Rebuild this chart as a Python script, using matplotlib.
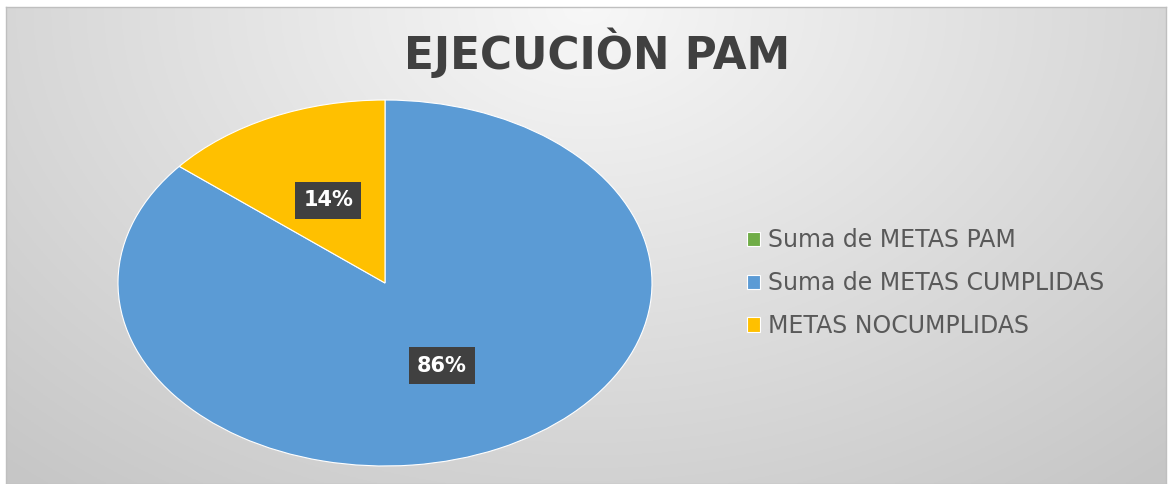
import numpy as np
import matplotlib.pyplot as plt

categorias = ["Suma de METAS PAM", "Suma de METAS CUMPLIDAS", "METAS NOCUMPLIDAS"]
valores = [0, 86, 14]
colores = ["#70AD47", "#5B9BD5", "#FFC000"]
titulo = "EJECUCIÒN PAM"

fig = plt.figure(figsize=(11.72, 4.84), dpi=100)
fig.patch.set_facecolor("white")

# fondo degradado del panel
W, H = 1172, 484
x0, y0, x1, y1 = 6, 7, 1166, 484
bg = fig.add_axes([x0 / W, 1 - y1 / H, (x1 - x0) / W, (y1 - y0) / H])
yy, xx = np.mgrid[0:200, 0:500]
d = np.sqrt(((xx - 250) / 330.0) ** 2 + ((yy - 0) / 230.0) ** 2)
g = np.clip(0.97 - 0.17 * d, 0.78, 0.97)
bg.imshow(np.dstack([g, g, g]), aspect="auto", extent=[0, 1, 0, 1], origin="upper")
bg.set_xlim(0, 1)
bg.set_ylim(0, 1)
bg.set_xticks([])
bg.set_yticks([])
for s in bg.spines.values():
    s.set_color("#bfbfbf")
    s.set_linewidth(1)

fig.text(597 / W, 1 - 53 / H, titulo, ha="center", va="center",
         fontsize=31.5, fontweight="bold", family="DejaVu Sans", color="#404040")

# pie (eliptica como en la imagen)
ax = fig.add_axes([118 / W, 18 / H, 534 / W, 366 / H])
ax.set_facecolor("none")


def fmt(p):
    return "" if p < 0.5 else "%d%%" % round(p)


wedges, texts, autotexts = ax.pie(valores, colors=colores, startangle=90, counterclock=False,
                                  autopct=fmt, pctdistance=0.5,
                                  wedgeprops=dict(edgecolor="white", linewidth=0.8))
for t in autotexts:
    t.set_color("white")
    t.set_fontweight("bold")
    t.set_fontsize(15)
    t.set_family("DejaVu Sans")
    if t.get_text():
        t.set_bbox(dict(facecolor="#404040", edgecolor="none", pad=6))
ax.set_aspect("auto")
ax.set_xlim(-1, 1)
ax.set_ylim(-1, 1)
ax.axis("off")

leg = fig.legend(wedges, categorias, loc="center left", bbox_to_anchor=(726 / W, 1 - 283 / H),
                 frameon=False, handlelength=0.55, handleheight=0.55,
                 handletextpad=0.35, labelspacing=0.8, prop={"family": "DejaVu Sans", "size": 17})
for t in leg.get_texts():
    t.set_color("#595959")

fig.savefig("out.png", dpi=100)
